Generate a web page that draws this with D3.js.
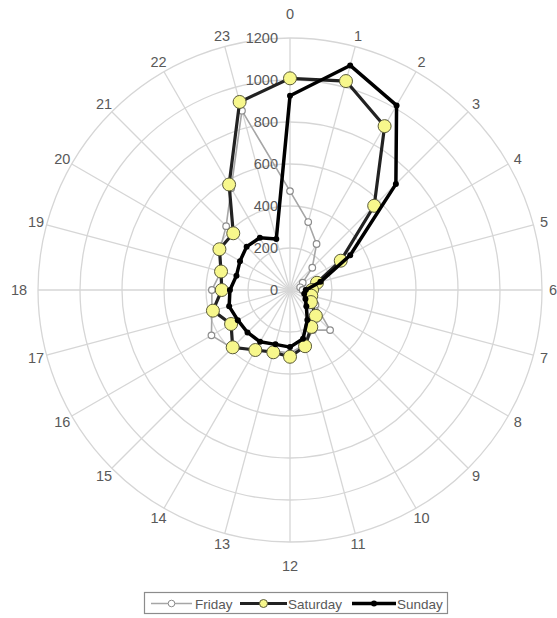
<!DOCTYPE html>
<html>
<head>
<meta charset="utf-8">
<script src="https://cdn.jsdelivr.net/npm/d3@7"></script>
<style>
  body { margin: 0; background: #fff; }
  text { font-family: "Liberation Sans", Arial, sans-serif; fill: #595959; }
</style>
</head>
<body>
<div id="chart"></div>
<script>
// hours round the dial
var hours = d3.range(24);
var ringTicks = [0, 200, 400, 600, 800, 1000, 1200];

// values, one per hour
var friday   = [471, 335, 253, 150, 70, 50, 60, 80, 140, 270, 220, 270, 300, 300, 330, 390, 432, 385, 372, 340, 385, 430, 560, 884];
var saturday = [1008, 1030, 901, 567, 279, 133, 105, 105, 115, 174, 203, 277, 318, 307, 330, 386, 324, 380, 325, 340, 388, 382, 580, 927];
var sunday   = [925, 1107, 1015, 713, 331, 150, 75, 70, 85, 110, 165, 240, 272, 268, 285, 286, 287, 300, 286, 264, 275, 292, 287, 252];

var seriesNames = ["Friday", "Saturday", "Sunday"];

var width = 557, height = 618;
var cx = 290, cy = 290;

var svg = d3.select("#chart")
  .append("svg")
  .attr("width", width)
  .attr("height", height);

var r = d3.scaleLinear().domain([0, 1200]).range([0, 252]);
var angle = d3.scaleLinear().domain([0, 24]).range([0, 2 * Math.PI]);

var g = svg.append("g").attr("transform", "translate(" + cx + "," + cy + ")");

// rings
g.selectAll("circle.ring")
  .data(ringTicks.slice(1))
  .enter().append("circle")
  .attr("class", "ring")
  .attr("r", function(d){ return r(d); })
  .attr("fill", "none")
  .attr("stroke", "#d6d6d6")
  .attr("stroke-width", 1.3);

// spokes
g.selectAll("line.spoke")
  .data(hours)
  .enter().append("line")
  .attr("x1", 0).attr("y1", 0)
  .attr("x2", function(d){ return r(1200) * Math.sin(angle(d)); })
  .attr("y2", function(d){ return -r(1200) * Math.cos(angle(d)); })
  .attr("stroke", "#d6d6d6")
  .attr("stroke-width", 1.3);

// hour labels
function labelR(h){
  if (h % 12 == 0) return 276;
  if (h == 18) return 271;
  return 263;
}
g.selectAll("text.hour")
  .data(hours)
  .enter().append("text")
  .attr("x", function(d){ return labelR(d) * Math.sin(angle(d)); })
  .attr("y", function(d){ return -labelR(d) * Math.cos(angle(d)); })
  .attr("text-anchor", "middle")
  .attr("dominant-baseline", "central")
  .style("font-size", "14.5px")
  .text(function(d){ return d; });

// value labels on the 0 spoke
g.selectAll("text.val")
  .data(ringTicks)
  .enter().append("text")
  .attr("x", -12)
  .attr("y", function(d){ return -r(d); })
  .attr("text-anchor", "end")
  .attr("dominant-baseline", "central")
  .style("font-size", "14.5px")
  .text(function(d){ return d; });

var line = d3.lineRadial()
  .angle(function(d, i){ return angle(i); })
  .radius(function(d){ return r(d); })
  .curve(d3.curveLinearClosed);

function pt(d, i){ return [r(d) * Math.sin(angle(i)), -r(d) * Math.cos(angle(i))]; }

// Friday
g.append("path").datum(friday)
  .attr("d", line).attr("fill", "none")
  .attr("stroke", "#a6a6a6").attr("stroke-width", 1.6);
g.selectAll("circle.fri").data(friday).enter().append("circle")
  .attr("cx", function(d, i){ return pt(d, i)[0]; })
  .attr("cy", function(d, i){ return pt(d, i)[1]; })
  .attr("r", 3.3).attr("fill", "#fff")
  .attr("stroke", "#8c8c8c").attr("stroke-width", 1.2);

// Saturday
g.append("path").datum(saturday)
  .attr("d", line).attr("fill", "none")
  .attr("stroke", "#222").attr("stroke-width", 3.2);
g.selectAll("circle.sat").data(saturday).enter().append("circle")
  .attr("cx", function(d, i){ return pt(d, i)[0]; })
  .attr("cy", function(d, i){ return pt(d, i)[1]; })
  .attr("r", 6.5).attr("fill", "#f7f78c")
  .attr("stroke", "#5a5a3a").attr("stroke-width", 1);

// Sunday
g.append("path").datum(sunday)
  .attr("d", line).attr("fill", "none")
  .attr("stroke", "#000").attr("stroke-width", 3.5)
  .attr("stroke-linejoin", "round");
g.selectAll("circle.sun").data(sunday).enter().append("circle")
  .attr("cx", function(d, i){ return pt(d, i)[0]; })
  .attr("cy", function(d, i){ return pt(d, i)[1]; })
  .attr("r", 3).attr("fill", "#000");

// legend
var lg = svg.append("g");
lg.append("rect")
  .attr("x", 144.5).attr("y", 592.5).attr("width", 303).attr("height", 21)
  .attr("fill", "#fff").attr("stroke", "#8c8c8c").attr("stroke-width", 1.2);

var legendItems = [
  {name: seriesNames[0], x1: 151, x2: 192, tx: 195, stroke: "#a6a6a6", sw: 1.6, mr: 3.3, mfill: "#fff", mstroke: "#8c8c8c"},
  {name: seriesNames[1], x1: 240, x2: 287, tx: 288, stroke: "#222", sw: 3.2, mr: 4, mfill: "#f7f78c", mstroke: "#5a5a3a"},
  {name: seriesNames[2], x1: 352, x2: 396, tx: 397, stroke: "#000", sw: 3.5, mr: 3, mfill: "#000", mstroke: "none"}
];
var item = lg.selectAll("g.item").data(legendItems).enter().append("g");
item.append("line")
  .attr("x1", function(d){ return d.x1; }).attr("x2", function(d){ return d.x2; })
  .attr("y1", 603.5).attr("y2", 603.5)
  .attr("stroke", function(d){ return d.stroke; })
  .attr("stroke-width", function(d){ return d.sw; });
item.append("circle")
  .attr("cx", function(d){ return (d.x1 + d.x2) / 2; }).attr("cy", 603.5)
  .attr("r", function(d){ return d.mr; })
  .attr("fill", function(d){ return d.mfill; })
  .attr("stroke", function(d){ return d.mstroke; });
item.append("text")
  .attr("x", function(d){ return d.tx; }).attr("y", 604)
  .attr("dominant-baseline", "central")
  .style("font-size", "13.5px")
  .text(function(d){ return d.name; });
</script>
</body>
</html>
